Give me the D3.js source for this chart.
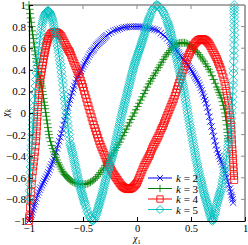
<!DOCTYPE html>
<html><head><meta charset="utf-8">
<script src="https://cdn.jsdelivr.net/npm/d3@7"></script>
<style>html,body{margin:0;padding:0;background:#fff;}svg{display:block;}</style>
</head><body><div id="chart"></div>
<script>
const xTicks = [-1, -0.5, 0, 0.5, 1];
const xTickLabels = ["\u22121", "\u22120.5", "0", "0.5", "1"];
const yTicks = [-1, -0.8, -0.6, -0.4, -0.2, 0, 0.2, 0.4, 0.6, 0.8, 1];
const yTickLabels = ["\u22121", "\u22120.8", "\u22120.6", "\u22120.4", "\u22120.2", "0", "0.2", "0.4", "0.6", "0.8", "1"];
const seriesNames = ["2", "3", "4", "5"];
const seriesColors = ["#0000ff", "#008000", "#ff0000", "#00bfbf"];

const k2 = [[-1,-1],[-0.993,-0.98],[-0.985,-0.96],[-0.978,-0.94],[-0.97,-0.92],[-0.963,-0.895],[-0.955,-0.87],[-0.948,-0.845],[-0.94,-0.82],[-0.93,-0.79],[-0.92,-0.76],[-0.91,-0.735],[-0.9,-0.71],[-0.89,-0.69],[-0.88,-0.67],[-0.87,-0.65],[-0.86,-0.63],[-0.85,-0.61],[-0.84,-0.59],[-0.83,-0.57],[-0.82,-0.55],[-0.81,-0.525],[-0.8,-0.5],[-0.79,-0.475],[-0.78,-0.45],[-0.77,-0.425],[-0.76,-0.4],[-0.75,-0.365],[-0.74,-0.33],[-0.73,-0.295],[-0.72,-0.26],[-0.71,-0.225],[-0.7,-0.19],[-0.69,-0.15],[-0.68,-0.11],[-0.67,-0.07],[-0.66,-0.03],[-0.65,0.01],[-0.64,0.05],[-0.63,0.085],[-0.62,0.12],[-0.61,0.155],[-0.6,0.19],[-0.59,0.22],[-0.58,0.25],[-0.57,0.28],[-0.56,0.31],[-0.55,0.33],[-0.54,0.35],[-0.53,0.37],[-0.52,0.39],[-0.51,0.41],[-0.5,0.43],[-0.49,0.45],[-0.48,0.47],[-0.47,0.485],[-0.46,0.5],[-0.45,0.52],[-0.44,0.54],[-0.43,0.555],[-0.42,0.57],[-0.41,0.58],[-0.4,0.59],[-0.39,0.605],[-0.38,0.62],[-0.37,0.63],[-0.36,0.64],[-0.35,0.65],[-0.34,0.66],[-0.33,0.67],[-0.32,0.68],[-0.31,0.69],[-0.3,0.7],[-0.29,0.71],[-0.28,0.72],[-0.26,0.733],[-0.24,0.745],[-0.22,0.76],[-0.2,0.767],[-0.18,0.773],[-0.16,0.78],[-0.14,0.787],[-0.12,0.792],[-0.1,0.795],[-0.08,0.798],[-0.06,0.8],[-0.04,0.8],[-0.02,0.8],[0,0.8],[0.02,0.8],[0.04,0.797],[0.06,0.794],[0.08,0.79],[0.1,0.787],[0.12,0.783],[0.14,0.78],[0.16,0.773],[0.18,0.767],[0.2,0.76],[0.22,0.74],[0.24,0.723],[0.26,0.71],[0.28,0.69],[0.3,0.667],[0.31,0.653],[0.32,0.64],[0.33,0.63],[0.34,0.62],[0.35,0.605],[0.36,0.59],[0.37,0.575],[0.38,0.56],[0.39,0.545],[0.4,0.53],[0.41,0.52],[0.42,0.51],[0.43,0.495],[0.44,0.48],[0.45,0.47],[0.46,0.46],[0.47,0.445],[0.48,0.43],[0.49,0.415],[0.5,0.4],[0.51,0.385],[0.52,0.37],[0.53,0.35],[0.54,0.33],[0.55,0.315],[0.56,0.3],[0.57,0.28],[0.58,0.26],[0.59,0.235],[0.6,0.21],[0.61,0.18],[0.62,0.15],[0.63,0.12],[0.64,0.09],[0.65,0.05],[0.66,0.01],[0.67,-0.035],[0.68,-0.08],[0.69,-0.125],[0.7,-0.17],[0.71,-0.215],[0.72,-0.26],[0.73,-0.3],[0.74,-0.34],[0.75,-0.37],[0.76,-0.4],[0.77,-0.425],[0.78,-0.45],[0.79,-0.475],[0.8,-0.5],[0.81,-0.53],[0.82,-0.56],[0.83,-0.595],[0.84,-0.63],[0.85,-0.665],[0.86,-0.7],[0.868,-0.73],[0.875,-0.76],[0.88,-0.78],[0.885,-0.8],[0.89,-0.83]];

const k3 = [[-1,1],[-0.995,0.96],[-0.99,0.92],[-0.985,0.88],[-0.98,0.84],[-0.975,0.8],[-0.97,0.76],[-0.965,0.725],[-0.96,0.69],[-0.955,0.65],[-0.95,0.61],[-0.945,0.575],[-0.94,0.54],[-0.935,0.505],[-0.93,0.47],[-0.925,0.44],[-0.92,0.41],[-0.915,0.385],[-0.91,0.36],[-0.905,0.335],[-0.9,0.31],[-0.895,0.29],[-0.89,0.27],[-0.885,0.25],[-0.88,0.23],[-0.875,0.2],[-0.87,0.17],[-0.865,0.135],[-0.86,0.1],[-0.855,0.07],[-0.85,0.04],[-0.845,0.005],[-0.84,-0.03],[-0.835,-0.065],[-0.83,-0.1],[-0.825,-0.135],[-0.82,-0.17],[-0.815,-0.2],[-0.81,-0.23],[-0.8,-0.265],[-0.79,-0.3],[-0.78,-0.33],[-0.77,-0.36],[-0.76,-0.385],[-0.75,-0.41],[-0.74,-0.435],[-0.73,-0.46],[-0.72,-0.48],[-0.71,-0.5],[-0.7,-0.52],[-0.69,-0.54],[-0.68,-0.555],[-0.67,-0.57],[-0.66,-0.58],[-0.65,-0.59],[-0.64,-0.6],[-0.63,-0.61],[-0.62,-0.62],[-0.61,-0.63],[-0.595,-0.638],[-0.58,-0.645],[-0.565,-0.65],[-0.55,-0.655],[-0.535,-0.658],[-0.52,-0.66],[-0.505,-0.66],[-0.49,-0.66],[-0.475,-0.658],[-0.46,-0.655],[-0.445,-0.648],[-0.43,-0.64],[-0.415,-0.63],[-0.4,-0.62],[-0.385,-0.605],[-0.37,-0.59],[-0.355,-0.57],[-0.34,-0.55],[-0.325,-0.53],[-0.31,-0.51],[-0.295,-0.485],[-0.28,-0.46],[-0.265,-0.44],[-0.25,-0.42],[-0.235,-0.395],[-0.22,-0.37],[-0.205,-0.345],[-0.19,-0.32],[-0.175,-0.295],[-0.16,-0.27],[-0.145,-0.24],[-0.13,-0.21],[-0.115,-0.18],[-0.1,-0.15],[-0.085,-0.12],[-0.07,-0.09],[-0.055,-0.06],[-0.04,-0.03],[-0.025,0],[-0.01,0.03],[0.005,0.06],[0.02,0.09],[0.035,0.12],[0.05,0.15],[0.065,0.18],[0.08,0.21],[0.095,0.24],[0.11,0.27],[0.125,0.295],[0.14,0.32],[0.155,0.345],[0.17,0.37],[0.185,0.395],[0.2,0.42],[0.215,0.445],[0.23,0.47],[0.245,0.495],[0.26,0.52],[0.275,0.54],[0.29,0.56],[0.305,0.58],[0.32,0.6],[0.335,0.615],[0.35,0.63],[0.365,0.638],[0.38,0.645],[0.395,0.648],[0.41,0.65],[0.425,0.65],[0.44,0.65],[0.455,0.645],[0.47,0.64],[0.485,0.63],[0.5,0.62],[0.515,0.605],[0.53,0.59],[0.545,0.575],[0.56,0.56],[0.575,0.54],[0.59,0.52],[0.605,0.5],[0.62,0.48],[0.635,0.455],[0.65,0.43],[0.665,0.405],[0.68,0.38],[0.695,0.345],[0.71,0.31],[0.725,0.275],[0.74,0.24],[0.75,0.215],[0.76,0.19],[0.77,0.165],[0.78,0.14],[0.79,0.105],[0.8,0.07],[0.808,0.035],[0.815,0],[0.82,-0.035],[0.825,-0.07],[0.83,-0.11],[0.835,-0.15],[0.838,-0.18],[0.84,-0.21],[0.843,-0.235],[0.845,-0.26]];

const k4 = [[-1,-1],[-0.998,-0.97],[-0.995,-0.95],[-0.99,-0.875],[-0.985,-0.8],[-0.98,-0.73],[-0.975,-0.66],[-0.97,-0.6],[-0.965,-0.54],[-0.96,-0.495],[-0.955,-0.45],[-0.95,-0.405],[-0.945,-0.36],[-0.94,-0.31],[-0.935,-0.26],[-0.932,-0.215],[-0.93,-0.17],[-0.927,-0.125],[-0.925,-0.08],[-0.922,-0.035],[-0.92,0.01],[-0.917,0.055],[-0.915,0.1],[-0.912,0.14],[-0.91,0.18],[-0.905,0.225],[-0.9,0.27],[-0.895,0.31],[-0.89,0.35],[-0.885,0.38],[-0.88,0.41],[-0.875,0.44],[-0.87,0.47],[-0.865,0.5],[-0.86,0.53],[-0.855,0.555],[-0.85,0.58],[-0.845,0.605],[-0.84,0.63],[-0.835,0.65],[-0.83,0.67],[-0.825,0.685],[-0.82,0.7],[-0.81,0.715],[-0.8,0.73],[-0.79,0.738],[-0.78,0.745],[-0.77,0.748],[-0.76,0.75],[-0.75,0.748],[-0.74,0.745],[-0.73,0.738],[-0.72,0.73],[-0.71,0.72],[-0.7,0.71],[-0.69,0.69],[-0.68,0.67],[-0.67,0.65],[-0.66,0.63],[-0.65,0.61],[-0.64,0.59],[-0.63,0.575],[-0.62,0.56],[-0.61,0.535],[-0.6,0.51],[-0.59,0.485],[-0.58,0.46],[-0.57,0.435],[-0.56,0.41],[-0.55,0.385],[-0.54,0.36],[-0.53,0.33],[-0.52,0.3],[-0.51,0.27],[-0.5,0.24],[-0.49,0.205],[-0.48,0.17],[-0.47,0.135],[-0.46,0.1],[-0.45,0.065],[-0.44,0.03],[-0.43,-0.005],[-0.42,-0.04],[-0.41,-0.075],[-0.4,-0.11],[-0.39,-0.14],[-0.38,-0.17],[-0.37,-0.2],[-0.36,-0.23],[-0.35,-0.26],[-0.34,-0.29],[-0.33,-0.315],[-0.32,-0.34],[-0.31,-0.365],[-0.3,-0.39],[-0.29,-0.415],[-0.28,-0.44],[-0.27,-0.46],[-0.26,-0.48],[-0.25,-0.5],[-0.24,-0.52],[-0.23,-0.54],[-0.22,-0.56],[-0.21,-0.575],[-0.2,-0.59],[-0.19,-0.605],[-0.18,-0.62],[-0.17,-0.635],[-0.16,-0.65],[-0.15,-0.663],[-0.14,-0.675],[-0.13,-0.683],[-0.12,-0.69],[-0.11,-0.695],[-0.1,-0.7],[-0.09,-0.703],[-0.08,-0.705],[-0.07,-0.703],[-0.06,-0.7],[-0.05,-0.695],[-0.04,-0.69],[-0.03,-0.68],[-0.02,-0.67],[-0.01,-0.658],[0,-0.645],[0.01,-0.623],[0.02,-0.6],[0.03,-0.575],[0.04,-0.55],[0.05,-0.525],[0.06,-0.5],[0.07,-0.48],[0.08,-0.46],[0.09,-0.44],[0.1,-0.42],[0.11,-0.4],[0.12,-0.38],[0.13,-0.355],[0.14,-0.33],[0.15,-0.31],[0.16,-0.29],[0.17,-0.27],[0.18,-0.25],[0.19,-0.23],[0.2,-0.21],[0.21,-0.185],[0.22,-0.16],[0.23,-0.14],[0.24,-0.12],[0.25,-0.095],[0.26,-0.07],[0.27,-0.045],[0.28,-0.02],[0.29,0.005],[0.3,0.03],[0.31,0.055],[0.32,0.08],[0.33,0.105],[0.34,0.13],[0.35,0.16],[0.36,0.19],[0.37,0.22],[0.38,0.25],[0.39,0.28],[0.4,0.31],[0.41,0.34],[0.42,0.37],[0.43,0.4],[0.44,0.43],[0.45,0.46],[0.46,0.49],[0.47,0.515],[0.48,0.54],[0.49,0.56],[0.5,0.58],[0.51,0.6],[0.52,0.62],[0.53,0.635],[0.54,0.65],[0.55,0.66],[0.56,0.67],[0.57,0.675],[0.58,0.68],[0.59,0.683],[0.6,0.685],[0.61,0.683],[0.62,0.68],[0.63,0.675],[0.64,0.67],[0.65,0.66],[0.66,0.65],[0.67,0.635],[0.68,0.62],[0.69,0.6],[0.7,0.58],[0.71,0.56],[0.72,0.54],[0.73,0.52],[0.74,0.5],[0.75,0.475],[0.76,0.45],[0.77,0.425],[0.78,0.4],[0.79,0.365],[0.8,0.33],[0.81,0.29],[0.82,0.25],[0.828,0.205],[0.835,0.16],[0.843,0.115],[0.85,0.07],[0.855,0.025],[0.86,-0.02],[0.865,-0.065],[0.87,-0.11],[0.873,-0.155],[0.875,-0.2],[0.878,-0.245],[0.88,-0.29],[0.883,-0.335],[0.885,-0.38],[0.888,-0.42],[0.89,-0.46],[0.893,-0.5],[0.895,-0.54],[0.898,-0.58],[0.9,-0.62]];

const k5 = [[-1,-0.82],[-0.998,-0.78],[-0.995,-0.72],[-0.992,-0.66],[-0.99,-0.61],[-0.987,-0.55],[-0.985,-0.5],[-0.982,-0.44],[-0.98,-0.39],[-0.977,-0.34],[-0.975,-0.3],[-0.972,-0.25],[-0.97,-0.2],[-0.967,-0.15],[-0.965,-0.11],[-0.962,-0.065],[-0.96,-0.03],[-0.957,0.02],[-0.955,0.06],[-0.95,0.12],[-0.945,0.19],[-0.94,0.25],[-0.935,0.31],[-0.93,0.37],[-0.925,0.43],[-0.92,0.48],[-0.915,0.53],[-0.91,0.58],[-0.905,0.625],[-0.9,0.67],[-0.895,0.71],[-0.89,0.745],[-0.885,0.78],[-0.88,0.81],[-0.875,0.835],[-0.87,0.855],[-0.865,0.875],[-0.86,0.89],[-0.855,0.905],[-0.85,0.915],[-0.845,0.925],[-0.84,0.932],[-0.835,0.938],[-0.83,0.942],[-0.825,0.945],[-0.82,0.945],[-0.815,0.94],[-0.81,0.935],[-0.805,0.925],[-0.8,0.915],[-0.795,0.9],[-0.79,0.885],[-0.785,0.87],[-0.78,0.85],[-0.775,0.83],[-0.77,0.805],[-0.765,0.78],[-0.76,0.755],[-0.755,0.73],[-0.75,0.705],[-0.745,0.68],[-0.74,0.65],[-0.735,0.62],[-0.73,0.59],[-0.725,0.56],[-0.72,0.525],[-0.715,0.49],[-0.71,0.455],[-0.705,0.42],[-0.7,0.38],[-0.695,0.34],[-0.69,0.3],[-0.685,0.26],[-0.68,0.215],[-0.675,0.17],[-0.67,0.13],[-0.665,0.09],[-0.66,0.045],[-0.655,0],[-0.65,-0.04],[-0.645,-0.08],[-0.64,-0.12],[-0.635,-0.16],[-0.63,-0.2],[-0.625,-0.24],[-0.62,-0.28],[-0.615,-0.3],[-0.61,-0.32],[-0.605,-0.34],[-0.6,-0.36],[-0.595,-0.38],[-0.59,-0.405],[-0.585,-0.43],[-0.58,-0.45],[-0.575,-0.475],[-0.57,-0.495],[-0.565,-0.52],[-0.56,-0.54],[-0.555,-0.565],[-0.55,-0.585],[-0.545,-0.61],[-0.54,-0.63],[-0.535,-0.65],[-0.53,-0.67],[-0.525,-0.69],[-0.52,-0.71],[-0.515,-0.727],[-0.51,-0.745],[-0.505,-0.762],[-0.5,-0.78],[-0.495,-0.797],[-0.49,-0.815],[-0.485,-0.832],[-0.48,-0.85],[-0.47,-0.88],[-0.46,-0.91],[-0.45,-0.935],[-0.44,-0.96],[-0.43,-0.975],[-0.42,-0.99],[-0.41,-0.995],[-0.4,-0.99],[-0.39,-0.975],[-0.38,-0.95],[-0.375,-0.93],[-0.37,-0.915],[-0.365,-0.898],[-0.36,-0.88],[-0.355,-0.862],[-0.35,-0.845],[-0.345,-0.828],[-0.34,-0.81],[-0.335,-0.792],[-0.33,-0.775],[-0.325,-0.758],[-0.32,-0.74],[-0.315,-0.72],[-0.31,-0.7],[-0.305,-0.68],[-0.3,-0.66],[-0.295,-0.64],[-0.29,-0.62],[-0.285,-0.6],[-0.28,-0.58],[-0.275,-0.563],[-0.27,-0.545],[-0.265,-0.528],[-0.26,-0.51],[-0.255,-0.493],[-0.25,-0.475],[-0.245,-0.458],[-0.24,-0.44],[-0.235,-0.423],[-0.23,-0.405],[-0.225,-0.388],[-0.22,-0.37],[-0.215,-0.348],[-0.21,-0.325],[-0.205,-0.303],[-0.2,-0.28],[-0.195,-0.258],[-0.19,-0.235],[-0.185,-0.213],[-0.18,-0.19],[-0.175,-0.168],[-0.17,-0.145],[-0.165,-0.123],[-0.16,-0.1],[-0.155,-0.078],[-0.15,-0.055],[-0.145,-0.033],[-0.14,-0.01],[-0.135,0.01],[-0.13,0.03],[-0.125,0.05],[-0.12,0.07],[-0.115,0.09],[-0.11,0.11],[-0.105,0.13],[-0.1,0.15],[-0.095,0.17],[-0.09,0.19],[-0.085,0.21],[-0.08,0.23],[-0.075,0.25],[-0.07,0.27],[-0.065,0.29],[-0.06,0.31],[-0.055,0.33],[-0.05,0.35],[-0.045,0.37],[-0.04,0.39],[-0.035,0.408],[-0.03,0.425],[-0.025,0.443],[-0.02,0.46],[-0.015,0.475],[-0.01,0.49],[-0.005,0.505],[0,0.52],[0.005,0.535],[0.01,0.55],[0.015,0.565],[0.02,0.58],[0.025,0.595],[0.03,0.61],[0.035,0.625],[0.04,0.64],[0.045,0.655],[0.05,0.67],[0.055,0.685],[0.06,0.7],[0.065,0.718],[0.07,0.735],[0.075,0.753],[0.08,0.77],[0.085,0.788],[0.09,0.805],[0.095,0.823],[0.1,0.84],[0.105,0.855],[0.11,0.87],[0.115,0.885],[0.12,0.9],[0.13,0.925],[0.14,0.95],[0.15,0.965],[0.16,0.98],[0.17,0.99],[0.18,1],[0.19,0.997],[0.2,0.99],[0.21,0.98],[0.22,0.97],[0.23,0.955],[0.24,0.94],[0.25,0.92],[0.26,0.9],[0.27,0.875],[0.28,0.85],[0.285,0.835],[0.29,0.82],[0.295,0.805],[0.3,0.79],[0.305,0.77],[0.31,0.75],[0.315,0.73],[0.32,0.71],[0.325,0.69],[0.33,0.67],[0.335,0.65],[0.34,0.63],[0.345,0.607],[0.35,0.585],[0.355,0.563],[0.36,0.54],[0.365,0.518],[0.37,0.495],[0.375,0.473],[0.38,0.45],[0.385,0.428],[0.39,0.405],[0.395,0.383],[0.4,0.36],[0.405,0.34],[0.41,0.32],[0.415,0.3],[0.42,0.28],[0.425,0.255],[0.43,0.23],[0.435,0.205],[0.44,0.18],[0.445,0.15],[0.45,0.12],[0.455,0.09],[0.46,0.06],[0.465,0.03],[0.47,0],[0.475,-0.03],[0.48,-0.06],[0.485,-0.088],[0.49,-0.115],[0.495,-0.143],[0.5,-0.17],[0.505,-0.198],[0.51,-0.225],[0.515,-0.253],[0.52,-0.28],[0.525,-0.308],[0.53,-0.335],[0.535,-0.363],[0.54,-0.39],[0.545,-0.415],[0.55,-0.44],[0.555,-0.465],[0.56,-0.49],[0.565,-0.513],[0.57,-0.535],[0.575,-0.558],[0.58,-0.58],[0.585,-0.6],[0.59,-0.62],[0.595,-0.64],[0.6,-0.66],[0.605,-0.68],[0.61,-0.7],[0.615,-0.72],[0.62,-0.74],[0.625,-0.758],[0.63,-0.775],[0.635,-0.793],[0.64,-0.81],[0.645,-0.828],[0.65,-0.845],[0.655,-0.863],[0.66,-0.88],[0.665,-0.898],[0.67,-0.915],[0.675,-0.933],[0.68,-0.95],[0.685,-0.97],[0.69,-0.99],[0.7,-1],[0.705,-0.985],[0.71,-0.965],[0.715,-0.945],[0.72,-0.93],[0.725,-0.908],[0.73,-0.885],[0.735,-0.863],[0.74,-0.84],[0.745,-0.823],[0.75,-0.805],[0.755,-0.788],[0.76,-0.77],[0.765,-0.753],[0.77,-0.735],[0.775,-0.718],[0.78,-0.7],[0.785,-0.673],[0.79,-0.645],[0.795,-0.618],[0.8,-0.59],[0.805,-0.56],[0.81,-0.53],[0.815,-0.5],[0.82,-0.47],[0.825,-0.435],[0.83,-0.4],[0.835,-0.365],[0.84,-0.33],[0.845,-0.3],[0.85,-0.27],[0.855,-0.245],[0.86,-0.22],[0.865,-0.18],[0.87,-0.14],[0.873,-0.095],[0.875,-0.05],[0.878,0],[0.88,0.05],[0.883,0.1],[0.885,0.15],[0.888,0.205],[0.89,0.26],[0.891,0.3],[0.893,0.37],[0.894,0.41],[0.896,0.48],[0.897,0.53],[0.898,0.58],[0.899,0.63],[0.9,0.68],[0.9,0.72],[0.9,0.77],[0.9,0.81],[0.9,0.85],[0.9,0.885],[0.9,0.92],[0.9,0.95],[0.9,0.975],[0.9,1]];

const seriesData = [k2, k3, k4, k5];
const markerTypes = ["x", "plus", "square", "diamond"];

const W = 248, H = 245;
const m = {left: 29, right: 3, top: 5, bottom: 24};
const FONT = "'Liberation Serif', 'Times New Roman', serif";

const svg = d3.select("#chart").append("svg").attr("width", W).attr("height", H)
  .attr("font-family", FONT);
const x = d3.scaleLinear().domain([-1, 1]).range([m.left, W - m.right]);
const y = d3.scaleLinear().domain([-1, 1]).range([H - m.bottom, m.top]);

function markerPath(type, s) {
  const p = d3.path();
  if (type === "x") { p.moveTo(-s,-s); p.lineTo(s,s); p.moveTo(-s,s); p.lineTo(s,-s); }
  else if (type === "plus") { p.moveTo(-s,0); p.lineTo(s,0); p.moveTo(0,-s); p.lineTo(0,s); }
  else if (type === "square") { p.rect(-s,-s,2*s,2*s); }
  else { p.moveTo(0,-s); p.lineTo(s,0); p.lineTo(0,s); p.lineTo(-s,0); p.closePath(); }
  return p.toString();
}
const markerSize = {x: 3.2, plus: 4, square: 3.5, diamond: 4.5};

const plot = svg.append("g");
const line = d3.line().x(d => x(d[0])).y(d => y(d[1]));
seriesData.forEach((data, i) => {
  const g = plot.append("g");
  g.append("path").datum(data).attr("d", line).attr("fill", "none")
    .attr("stroke", seriesColors[i]).attr("stroke-width", 1);
  const mt = markerTypes[i];
  g.selectAll("path.mk").data(data).enter().append("path").attr("class", "mk")
    .attr("d", markerPath(mt, markerSize[mt]))
    .attr("transform", d => `translate(${x(d[0])},${y(d[1])})`)
    .attr("fill", "none").attr("stroke", seriesColors[i]).attr("stroke-width", 0.8);
});

// frame (top/right gray)
const gray = "#8c8c8c";
svg.append("line").attr("x1", x(-1)).attr("x2", x(1)).attr("y1", y(1)).attr("y2", y(1)).attr("stroke", gray).attr("stroke-width", 1.6);
svg.append("line").attr("x1", x(1)).attr("x2", x(1)).attr("y1", y(1)).attr("y2", y(-1)).attr("stroke", gray).attr("stroke-width", 1.6);

const xAxis = d3.axisBottom(x).tickValues(xTicks).tickSizeInner(-4).tickSizeOuter(0).tickFormat((d, i) => xTickLabels[i]);
const gx = svg.append("g").attr("transform", `translate(0,${y(-1)})`).call(xAxis).attr("font-family", FONT);
gx.select(".domain").attr("stroke", "#000").attr("stroke-width", 1.1);
gx.selectAll(".tick line").attr("stroke", "#000");
gx.selectAll(".tick text").attr("y", 3).attr("dy", "0.72em").style("font-family", FONT).style("font-size", "10.5px").attr("fill", "#000");

const yAxis = d3.axisLeft(y).tickValues(yTicks).tickSizeInner(-4).tickSizeOuter(0).tickFormat((d, i) => yTickLabels[i]);
const gy = svg.append("g").attr("transform", `translate(${x(-1)},0)`).call(yAxis).attr("font-family", FONT);
gy.select(".domain").attr("stroke", "#000").attr("stroke-width", 1.1);
gy.selectAll(".tick line").attr("stroke", "#000");
gy.selectAll(".tick text").attr("x", -3).style("font-family", FONT).style("font-size", "11px").attr("fill", "#000");

// top/right ticks
const gt = svg.append("g");
gt.selectAll("line.tt").data(xTicks.slice(1, -1)).enter().append("line")
  .attr("x1", d => x(d)).attr("x2", d => x(d)).attr("y1", y(1)).attr("y2", y(1) + 4).attr("stroke", gray);
gt.selectAll("line.rt").data(yTicks.slice(1, -1)).enter().append("line")
  .attr("x1", x(1)).attr("x2", x(1) - 4).attr("y1", d => y(d)).attr("y2", d => y(d)).attr("stroke", gray);

// axis labels
const xl = svg.append("text").attr("x", x(0)).attr("y", 242).attr("text-anchor", "middle")
  .style("font-family", FONT).style("font-size", "9.5px");
xl.append("tspan").style("font-style", "italic").text("\u03c7");
xl.append("tspan").attr("dy", 1.5).style("font-size", "7px").text("1");

const yl = svg.append("text").attr("transform", `translate(9,${y(0)}) rotate(-90)`).attr("text-anchor", "middle")
  .style("font-family", FONT).style("font-size", "10.5px");
yl.append("tspan").style("font-style", "italic").text("\u03c7");
yl.append("tspan").attr("dy", 2).style("font-size", "7.5px").style("font-style", "italic").text("k");

// legend
const legY = [178, 188.5, 199, 209.5];
seriesNames.forEach((nm, i) => {
  const g = svg.append("g").attr("transform", `translate(0,${legY[i]})`);
  g.append("line").attr("x1", 148).attr("x2", 172).attr("y1", 0).attr("y2", 0).attr("stroke", seriesColors[i]).attr("stroke-width", 1);
  const mt = markerTypes[i];
  g.append("path").attr("d", markerPath(mt, markerSize[mt] * 0.9)).attr("transform", "translate(160,0)")
    .attr("fill", "none").attr("stroke", seriesColors[i]).attr("stroke-width", 0.9);
  const t = g.append("text").attr("x", 176).attr("y", 4).style("font-family", FONT).style("font-size", "11px");
  t.append("tspan").style("font-style", "italic").text("k");
  t.append("tspan").text(" = " + nm);
});
</script>
</body></html>
